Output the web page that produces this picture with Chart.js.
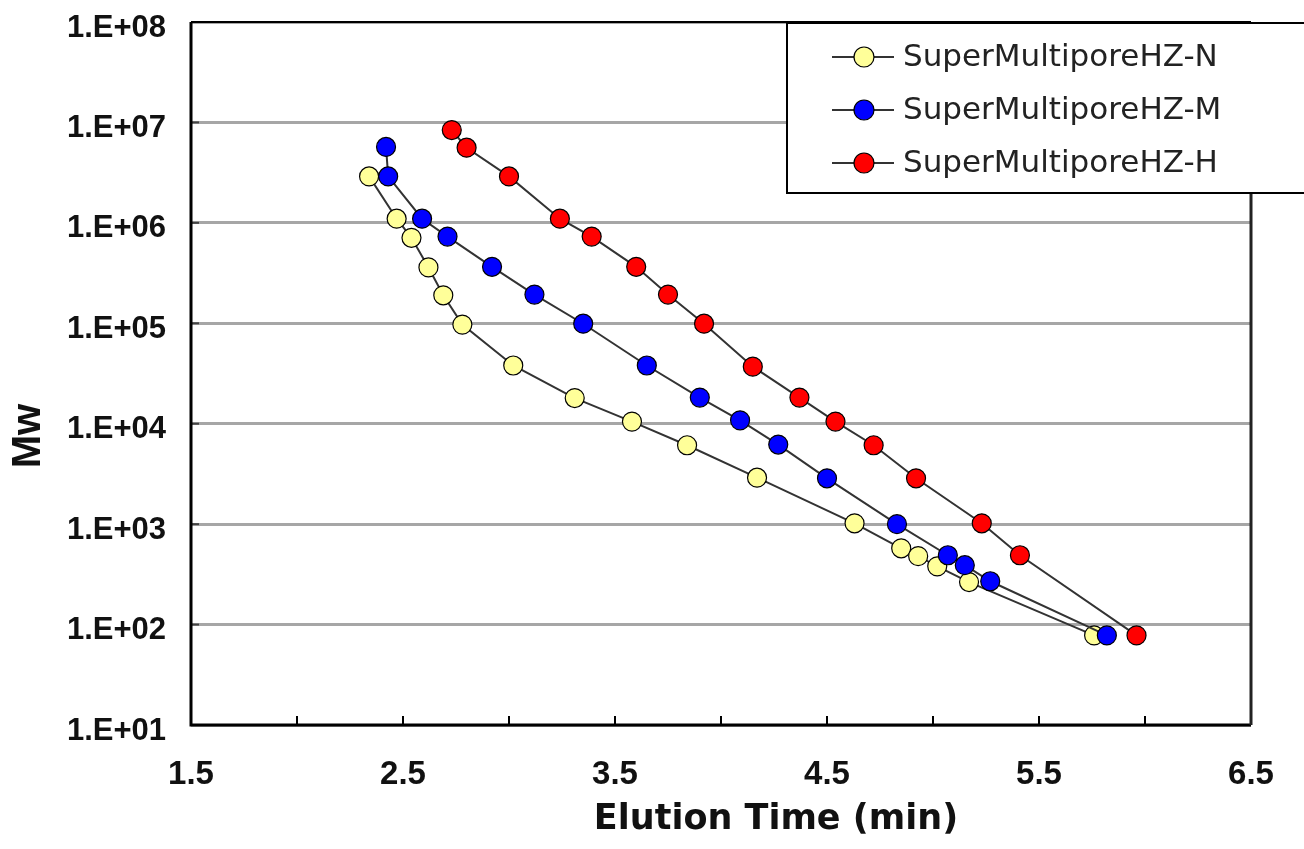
<!DOCTYPE html>
<html>
<head>
<meta charset="utf-8">
<script src="https://cdn.jsdelivr.net/npm/chart.js@4.4.1/dist/chart.umd.min.js"></script>
<style>
  html, body { margin: 0; padding: 0; background: #fff; }
  #wrap { width: 1304px; height: 849px; position: relative; }
</style>
</head>
<body>
<div id="wrap"><canvas id="calib"></canvas></div>
<script>
// names of the three columns
const seriesNames = ['SuperMultiporeHZ-N', 'SuperMultiporeHZ-M', 'SuperMultiporeHZ-H'];

// elution time (min) and Mw
const timeN = [2.34, 2.47, 2.54, 2.62, 2.69, 2.78, 3.02, 3.31, 3.58, 3.84, 4.17, 4.63, 4.85, 4.93, 5.02, 5.17, 5.76];
const mwN   = [2.9e6, 1.1e6, 7.1e5, 3.6e5, 1.9e5, 9.7e4, 3.8e4, 1.8e4, 1.05e4, 6.1e3, 2.9e3, 1.02e3, 575, 480, 380, 265, 78];

const timeM = [2.42, 2.43, 2.59, 2.71, 2.92, 3.12, 3.35, 3.65, 3.90, 4.09, 4.27, 4.50, 4.83, 5.07, 5.15, 5.27, 5.82];
const mwM   = [5.7e6, 2.9e6, 1.1e6, 7.3e5, 3.65e5, 1.93e5, 9.9e4, 3.8e4, 1.82e4, 1.08e4, 6.2e3, 2.86e3, 1.0e3, 490, 390, 270, 78];

const timeH = [2.73, 2.80, 3.00, 3.24, 3.39, 3.60, 3.75, 3.92, 4.15, 4.37, 4.54, 4.72, 4.92, 5.23, 5.41, 5.96];
const mwH   = [8.4e6, 5.6e6, 2.9e6, 1.1e6, 7.3e5, 3.65e5, 1.93e5, 9.9e4, 3.7e4, 1.82e4, 1.05e4, 6.1e3, 2.86e3, 1.02e3, 490, 78];

const markerColors = ['#ffff99', '#0000ff', '#ff0000'];

const xMin = 1.5, xMax = 6.5, xStep = 0.5;
const yDecades = [1e1, 1e2, 1e3, 1e4, 1e5, 1e6, 1e7, 1e8];

const xTitle = 'Elution Time (min)';
const yTitle = 'Mw';

function toPoints(xs, ys) {
  return xs.map((x, i) => ({ x: x, y: ys[i] }));
}

function makeSet(idx, xs, ys, ord) {
  return {
    label: seriesNames[idx],
    data: toPoints(xs, ys),
    showLine: true,
    borderColor: '#333333',
    borderWidth: 2,
    tension: 0,
    pointRadius: 9.5,
    pointHoverRadius: 9.5,
    pointBackgroundColor: markerColors[idx],
    pointBorderColor: '#000',
    pointBorderWidth: 1.2,
    order: ord
  };
}

// frame, inward tick marks and axis titles
const framePlugin = {
  id: 'frame',
  beforeDatasetsDraw(chart) {
    const ctx = chart.ctx;
    const a = chart.chartArea;
    const xs = chart.scales.x;
    const ys = chart.scales.y;
    ctx.save();
    ctx.strokeStyle = '#000';
    // inward ticks on x
    ctx.lineWidth = 2;
    for (let v = xMin + xStep; v < xMax; v += xStep) {
      const px = Math.round(xs.getPixelForValue(v));
      ctx.beginPath();
      ctx.moveTo(px, a.bottom);
      ctx.lineTo(px, a.bottom - 9);
      ctx.stroke();
    }
    ctx.strokeStyle = '#444';
    yDecades.forEach(v => {
      const py = ys.getPixelForValue(v);
      ctx.beginPath();
      ctx.moveTo(a.left, py);
      ctx.lineTo(a.left + 8, py);
      ctx.stroke();
    });
    // box
    ctx.strokeStyle = '#000';
    ctx.lineWidth = 3;
    ctx.beginPath();
    ctx.moveTo(a.left, a.top);
    ctx.lineTo(a.left, a.bottom);
    ctx.lineTo(a.right, a.bottom);
    ctx.stroke();
    ctx.strokeStyle = '#222';
    ctx.beginPath();
    ctx.moveTo(a.right, a.bottom);
    ctx.lineTo(a.right, a.top);
    ctx.stroke();
    ctx.lineWidth = 2;
    ctx.strokeStyle = '#000';
    ctx.beginPath();
    ctx.moveTo(a.left, a.top);
    ctx.lineTo(a.right, a.top);
    ctx.stroke();

    // axis titles
    ctx.fillStyle = '#111';
    ctx.textAlign = 'center';
    ctx.textBaseline = 'middle';
    ctx.font = 'bold 35px "DejaVu Sans"';
    ctx.fillText(xTitle, 776, 820);
    ctx.translate(29, 436);
    ctx.rotate(-Math.PI / 2);
    ctx.font = 'bold 40px "Liberation Sans", Arial';
    ctx.fillText(yTitle, 0, 0);
    ctx.restore();
  },
  afterDraw(chart) {
    // legend box in the upper right
    const ctx = chart.ctx;
    ctx.save();
    ctx.fillStyle = '#fff';
    ctx.fillRect(786, 22, 530, 171);
    ctx.strokeStyle = '#000';
    ctx.lineWidth = 2;
    ctx.strokeRect(787, 23, 530, 170);
    const rows = [57, 110, 163];
    ctx.font = '31px "DejaVu Sans"';
    ctx.textBaseline = 'middle';
    ctx.textAlign = 'left';
    seriesNames.forEach((name, i) => {
      const y = rows[i];
      ctx.strokeStyle = '#333';
      ctx.lineWidth = 2;
      ctx.beginPath();
      ctx.moveTo(832, y);
      ctx.lineTo(894, y);
      ctx.stroke();
      ctx.beginPath();
      ctx.arc(864, y, 10, 0, Math.PI * 2);
      ctx.fillStyle = markerColors[i];
      ctx.fill();
      ctx.lineWidth = 1.2;
      ctx.strokeStyle = '#000';
      ctx.stroke();
      ctx.fillStyle = '#222';
      ctx.fillText(name, 903, y + 1);
    });
    ctx.restore();
  }
};

new Chart(document.getElementById('calib'), {
  type: 'scatter',
  data: {
    datasets: [
      makeSet(0, timeN, mwN, 3),
      makeSet(1, timeM, mwM, 2),
      makeSet(2, timeH, mwH, 1)
    ]
  },
  options: {
    responsive: true,
    maintainAspectRatio: false,
    animation: false,
    events: [],
    layout: { padding: { top: 22, right: 53, bottom: 0, left: 0 } },
    plugins: {
      legend: { display: false },
      tooltip: { enabled: false }
    },
    scales: {
      x: {
        type: 'linear',
        min: xMin,
        max: xMax,
        afterFit(scale) {
          scale.height = 124;
          scale.paddingLeft = 0;
          scale.paddingRight = 0;
        },
        grid: { drawOnChartArea: false, drawTicks: false },
        border: { display: false },
        ticks: {
          stepSize: xStep,
          padding: 30,
          color: '#111',
          font: { family: '"Liberation Sans", Arial', size: 33, weight: 'bold' },
          maxRotation: 0,
          autoSkip: false,
          callback: function (value) {
            const k = Math.round((value - xMin) * 2);
            return (k % 2 === 0) ? value.toFixed(1) : '';
          }
        }
      },
      y: {
        type: 'logarithmic',
        min: 1e1,
        max: 1e8,
        afterFit(scale) {
          scale.width = 191;
          scale.paddingTop = 0;
          scale.paddingBottom = 0;
        },
        afterBuildTicks(scale) {
          scale.ticks = yDecades.map(v => ({ value: v, major: true }));
        },
        grid: { color: '#a6a6a6', lineWidth: 3, drawTicks: false },
        border: { display: false },
        ticks: {
          padding: 25,
          labelOffset: 6,
          color: '#111',
          font: { family: '"Liberation Sans", Arial', size: 31, weight: 'bold' },
          callback: function (value) {
            const p = Math.round(Math.log10(value));
            return '1.E+' + String(p).padStart(2, '0');
          }
        }
      }
    }
  },
  plugins: [framePlugin]
});
</script>
</body>
</html>
